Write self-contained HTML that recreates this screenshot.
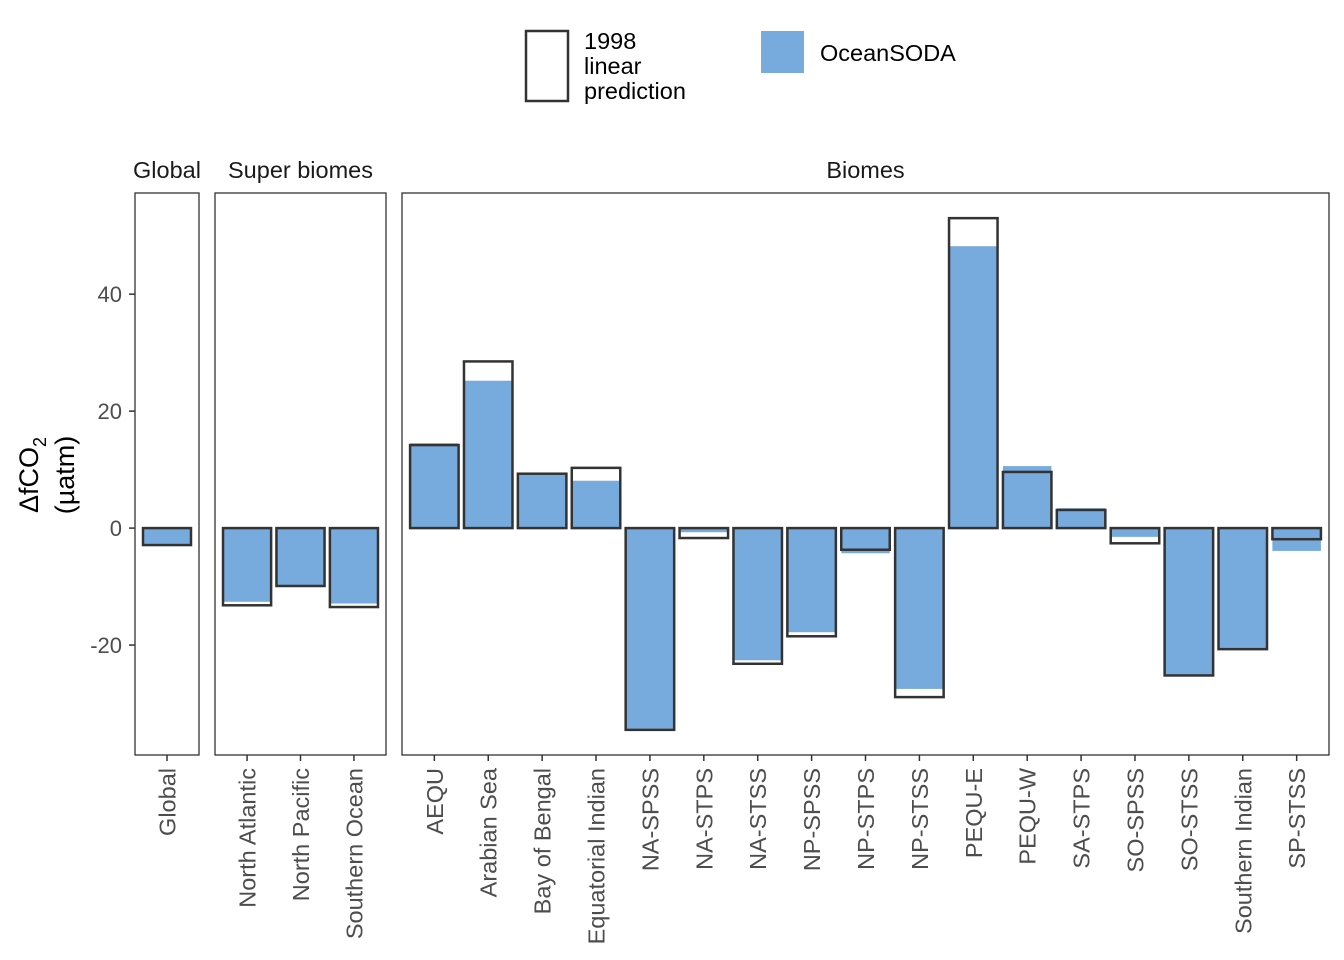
<!DOCTYPE html>
<html><head><meta charset="utf-8"><style>
body{margin:0;background:#fff;}
svg{display:block;font-family:"Liberation Sans",sans-serif;}
</style></head><body>
<svg id="chart" width="1344" height="960">
<g>
<rect x="526" y="31" width="42" height="70" fill="#fff" stroke="#333" stroke-width="2.5"/>
<text x="584" y="49" font-size="23.5" fill="#000"><tspan x="584">1998</tspan><tspan x="584" dy="25">linear</tspan><tspan x="584" dy="25">prediction</tspan></text>
<rect x="761" y="31" width="43" height="42" fill="#77aadd"/>
<text x="820" y="61" font-size="23.5" fill="#000">OceanSODA</text>
</g>
<g>
<text transform="translate(38,475) rotate(-90)" text-anchor="middle" font-size="27">ΔfCO<tspan font-size="18" dy="8">2</tspan></text>
<text transform="translate(74,475) rotate(-90)" text-anchor="middle" font-size="27">(µatm)</text>
</g>
<g id="plot"></g>
</svg>
<script>
const globalCats=["Global"];
const globalPred=[-2.9];
const globalSoda=[-2.8];
const superCats=["North Atlantic","North Pacific","Southern Ocean"];
const superPred=[-13.2,-9.9,-13.5];
const superSoda=[-12.6,-9.9,-12.9];
const biomeCats=["AEQU","Arabian Sea","Bay of Bengal","Equatorial Indian","NA-SPSS","NA-STPS","NA-STSS","NP-SPSS","NP-STPS","NP-STSS","PEQU-E","PEQU-W","SA-STPS","SO-SPSS","SO-STSS","Southern Indian","SP-STSS"];
const biomePred=[14.2,28.5,9.3,10.3,-34.5,-1.7,-23.2,-18.5,-3.7,-28.9,53.0,9.6,3.1,-2.6,-25.2,-20.7,-1.9];
const biomeSoda=[14.5,25.2,9.2,8.1,-34.3,-0.7,-22.6,-17.8,-4.3,-27.5,48.2,10.6,3.4,-1.5,-25.1,-20.5,-3.9];
const yTicks=[-20,0,20,40];

const NS="http://www.w3.org/2000/svg";
const plot=document.getElementById('plot');
const yTop=193,yBot=755,yMin=-38.8,yMax=57.3;
function y(v){return yBot-(v-yMin)/(yMax-yMin)*(yBot-yTop);}
function mk(t,a,p){const e=document.createElementNS(NS,t);for(const k in a)e.setAttribute(k,a[k]);(p||plot).appendChild(e);return e;}

const panels=[
 {name:"Global",x0:135,x1:199,cats:globalCats,pred:globalPred,soda:globalSoda,key:"global"},
 {name:"Super biomes",x0:215,x1:386,cats:superCats,pred:superPred,soda:superSoda,key:"super"},
 {name:"Biomes",x0:402,x1:1329,cats:biomeCats,pred:biomePred,soda:biomeSoda,key:"biomes"}
];
panels.forEach((p,pi)=>{
 const g=mk('g',{});
 
 
 const n=p.cats.length;const step=(p.x1-p.x0)/(n+0.2);
 const bw=step*0.9;
 const st=mk('text',{x:(p.x0+p.x1)/2,y:178,'text-anchor':'middle','font-size':23.5,fill:'#1a1a1a'},g);
 st.textContent=p.name;
 
 
 p.cats.forEach((c,i)=>{
  const cx=p.x0+step*(0.6+i);
  const y0=y(0);
  const ys=y(p.soda[i]);
  const sb=mk('rect',{x:cx-bw/2,y:Math.min(y0,ys),width:bw,height:Math.abs(ys-y0),fill:'#77aadd'},g);
  
  
  const yp=y(p.pred[i]);
  const pb=mk('rect',{x:cx-bw/2,y:Math.min(y0,yp),width:bw,height:Math.abs(yp-y0),fill:'none',stroke:'#333','stroke-width':2.5},g);
  
  
  mk('line',{x1:cx,x2:cx,y1:yBot,y2:yBot+6,stroke:'#333','stroke-width':1.5},g);
  const t=mk('text',{transform:`translate(${cx+8.5},${yBot+13}) rotate(-90)`,'text-anchor':'end','font-size':23.5,fill:'#4d4d4d'},g);
  t.textContent=c;
  
  
 });
 const fr=mk('rect',{x:p.x0,y:yTop,width:p.x1-p.x0,height:yBot-yTop,fill:'none',stroke:'#333','stroke-width':1.3},g);
 
 
});
yTicks.forEach(v=>{
 mk('line',{x1:129,x2:135,y1:y(v),y2:y(v),stroke:'#333','stroke-width':1.5});
 const t=mk('text',{x:122,y:y(v)+8,'text-anchor':'end','font-size':22,fill:'#4d4d4d'});
 t.textContent=v;
 
 
});
</script>
</body></html>
